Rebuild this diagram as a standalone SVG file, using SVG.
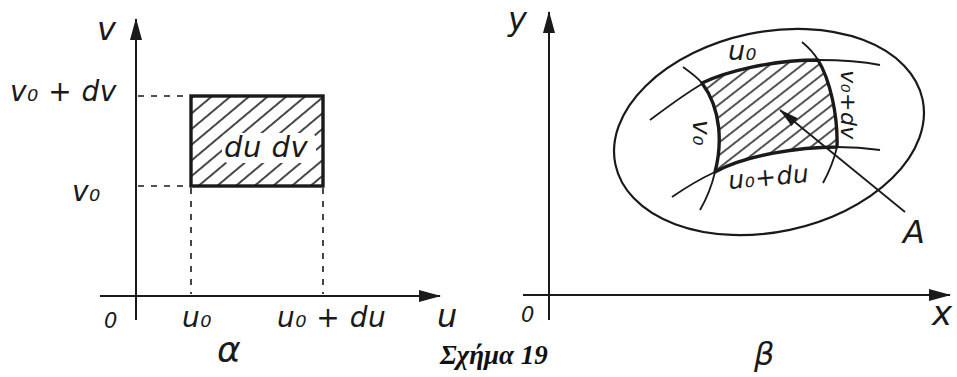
<svg xmlns="http://www.w3.org/2000/svg" width="957" height="377" viewBox="0 0 957 377">
<style>
.ax{stroke:#1a1a1a;stroke-width:2;fill:none}
.thin{stroke:#1a1a1a;stroke-width:1.8;fill:none}
.thick{stroke:#1a1a1a;stroke-width:3.4;fill:none;stroke-linejoin:round;stroke-linecap:round}
.dash{stroke:#1a1a1a;stroke-width:1.6;stroke-dasharray:6 7;fill:none}
.hw{font-family:'DejaVu Sans',sans-serif;font-style:italic;font-weight:200;fill:#1a1a1a;letter-spacing:0.5px}
</style>
<defs>
<marker id="ah" viewBox="0 0 22 12" refX="21" refY="6" markerWidth="22" markerHeight="12" orient="auto" markerUnits="userSpaceOnUse">
<path d="M0,0 L22,6 L0,12 Z" fill="#1a1a1a"/>
</marker>
<marker id="ahs" viewBox="0 0 20 10" refX="19" refY="5" markerWidth="20" markerHeight="10" orient="auto" markerUnits="userSpaceOnUse">
<path d="M0,0 L20,5 L0,10 Z" fill="#1a1a1a"/>
</marker>
<pattern id="hatchL" patternUnits="userSpaceOnUse" width="12" height="12" patternTransform="rotate(-40)">
<line x1="-1" y1="6" x2="13" y2="6" stroke="#1a1a1a" stroke-width="1.6"/>
</pattern>
<pattern id="hatchR" patternUnits="userSpaceOnUse" width="10" height="10" patternTransform="rotate(-38)">
<line x1="-1" y1="5" x2="11" y2="5" stroke="#1a1a1a" stroke-width="1.5"/>
</pattern>
<clipPath id="regionClip">
<path d="M702,83 C725,72 770,60 818,60 C830,80 838,115 837,147 C800,147 745,155 715,172 C722,145 722,110 702,83 Z"/>
</clipPath>
</defs>
<rect width="957" height="377" fill="#fff"/>

<g id="panel-alpha">
<g id="axes-uv">
<line class="ax" x1="136" y1="320" x2="136" y2="19" marker-end="url(#ah)"/>
<line class="ax" x1="100" y1="296" x2="440" y2="296" marker-end="url(#ah)"/>
</g>
<g id="guides-uv">
<line class="dash" x1="138" y1="96" x2="191" y2="96"/>
<line class="dash" x1="138" y1="186" x2="191" y2="186"/>
<line class="dash" x1="191" y1="188" x2="191" y2="294"/>
<line class="dash" x1="323" y1="188" x2="323" y2="294"/>
</g>
<g id="rect-dudv">
<rect x="191" y="96" width="132" height="90" fill="url(#hatchL)"/>
<rect x="222" y="133" width="94" height="30" rx="6" fill="#fff"/>
<rect x="191" y="96" width="132" height="90" fill="none" stroke="#1a1a1a" stroke-width="3.4"/>
<text class="hw" x="224" y="157" font-size="29">du dv</text>
</g>
<g id="labels-alpha">
<text class="hw" x="97" y="40" font-size="32">v</text>
<text class="hw" x="10" y="101" font-size="28">v₀ + dv</text>
<text class="hw" x="72" y="201" font-size="28">v₀</text>
<text class="hw" x="104" y="328" font-size="21">0</text>
<text class="hw" x="182" y="327" font-size="28">u₀</text>
<text class="hw" x="277" y="327" font-size="28">u₀ + du</text>
<text class="hw" x="437" y="327" font-size="32">u</text>
<text class="hw" x="217" y="362" font-size="36">α</text>
</g>
</g>

<text id="caption" x="440" y="364" font-size="27" font-family="Liberation Serif, Times New Roman, serif" font-style="italic" font-weight="bold" fill="#111">Σχήμα 19</text>

<g id="panel-beta">
<g id="axes-xy">
<line class="ax" x1="549" y1="320" x2="549" y2="12" marker-end="url(#ah)"/>
<line class="ax" x1="523" y1="295" x2="950" y2="295" marker-end="url(#ah)"/>
</g>
<g id="domain">
<ellipse cx="769" cy="132" rx="157" ry="100" transform="rotate(-12 769 132)" fill="none" stroke="#1a1a1a" stroke-width="2.2"/>
</g>
<g id="region-A">
<rect x="690" y="50" width="160" height="130" fill="url(#hatchR)" clip-path="url(#regionClip)"/>
<path class="thin" d="M650,120 C670,105 688,92 702,84"/>
<path class="thin" d="M818,60 C845,60 865,62 880,65"/>
<path class="thin" d="M683,67 C690,72 697,77 702,83"/>
<path class="thin" d="M715,172 C712,185 707,198 700,210"/>
<path class="thin" d="M672,197 C685,188 700,179 715,172"/>
<path class="thin" d="M837,147 C852,147 866,148 880,150"/>
<path class="thin" d="M802,42 C808,47 814,53 818,60"/>
<path class="thin" d="M837,147 C834,160 829,172 823,183"/>
<path class="thick" d="M702,83 C725,72 770,60 818,60 C830,80 838,115 837,147 C800,147 745,155 715,172 C722,145 722,110 702,83 Z"/>
</g>
<g id="connectors">
<line class="thin" x1="905" y1="212" x2="780" y2="110" marker-end="url(#ahs)"/>
</g>
<g id="labels-beta">
<text class="hw" x="508" y="30" font-size="32">y</text>
<text class="hw" x="521" y="322" font-size="21">0</text>
<text class="hw" x="932" y="325" font-size="34">x</text>
<text class="hw" x="754" y="365" font-size="32">β</text>
<text class="hw" x="728" y="60" font-size="27">u₀</text>
<text class="hw" x="0" y="0" font-size="25" text-anchor="middle" transform="translate(700,133) rotate(90) translate(0,7)">v₀</text>
<text class="hw" x="0" y="0" font-size="22" text-anchor="middle" transform="translate(848,105) rotate(90) translate(0,7)">v₀+dv</text>
<text class="hw" x="0" y="0" font-size="25" transform="translate(729,189) rotate(-5)">u₀+du</text>
<text class="hw" x="903" y="243" font-size="32">A</text>
</g>
</g>
</svg>
